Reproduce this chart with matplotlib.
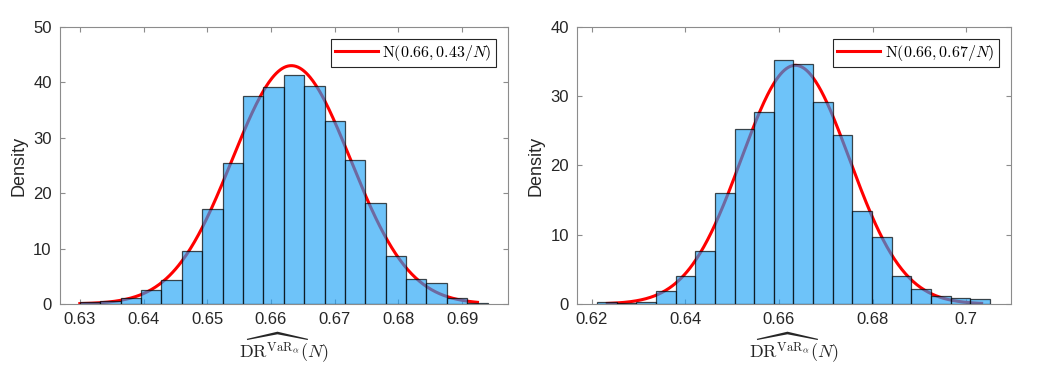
import numpy as np
import matplotlib
matplotlib.use('Agg')
import matplotlib.pyplot as plt

plt.rcParams['font.family'] = ['Liberation Sans', 'DejaVu Sans']
plt.rcParams['mathtext.fontset'] = 'cm'

# sample size used in the variance of the fitted normal
n_samples = 5000

# left panel: histogram (density) of the estimator
left_start = 0.6300
left_width = 0.0032
left_heights = [0.3, 0.6, 1.15, 2.6, 4.4, 9.6, 17.1, 25.5, 37.5, 39.1,
                41.4, 39.3, 33.0, 25.9, 18.3, 8.6, 4.6, 3.7, 1.0, 0.25]
left_mu = 0.6632
left_var = 0.43
left_range = (0.6300, 0.6924)
left_label = r'$\mathrm{N}(0.66, 0.43/N)$'
left_xticks = [0.63, 0.64, 0.65, 0.66, 0.67, 0.68, 0.69]
left_yticks = [0, 10, 20, 30, 40, 50]

# right panel
right_start = 0.6211
right_width = 0.0042
right_heights = [0.3, 0.15, 0.3, 1.9, 4.0, 7.7, 16.0, 25.3, 27.7, 35.2,
                 34.6, 29.2, 24.4, 13.4, 9.7, 4.1, 2.1, 1.2, 0.9, 0.75]
right_mu = 0.6635
right_var = 0.67
right_range = (0.6233, 0.7033)
right_label = r'$\mathrm{N}(0.66, 0.67/N)$'
right_xticks = [0.62, 0.64, 0.66, 0.68, 0.70]
right_yticks = [0, 10, 20, 30, 40]

xlabel = r'$\widehat{\mathrm{DR}^{\mathrm{VaR}_\alpha}}(N)$'

face = (33/255., 163/255., 247/255., 0.65)
edge = (0, 0, 0, 0.7)
axcol = '#8c8c8c'
txtcol = '#262626'


def panel(ax, start, width, heights, mu, var, xr, label, xticks, yticks, xlim, ylim):
    lefts = start + width*np.arange(len(heights))
    sigma = np.sqrt(var/n_samples)
    xs = np.linspace(xr[0], xr[1], 400)
    pdf = np.exp(-0.5*((xs-mu)/sigma)**2)/(sigma*np.sqrt(2*np.pi))
    ax.plot(xs, pdf, color='red', lw=2.2, zorder=2, label=label)
    ax.bar(lefts, heights, width=width, align='edge', facecolor=face,
           edgecolor=edge, linewidth=0.9, zorder=3)
    ax.set_xlim(xlim)
    ax.set_ylim(ylim)
    ax.set_xticks(xticks)
    ax.set_yticks(yticks)
    ax.xaxis.set_major_formatter(matplotlib.ticker.FormatStrFormatter('%g'))
    ax.tick_params(direction='in', top=True, right=True, length=3.5, width=0.8,
                   color=axcol, labelcolor=txtcol, labelsize=12, pad=6)
    for s in ax.spines.values():
        s.set_color(axcol)
        s.set_linewidth(0.8)
    ax.set_ylabel('Density', fontsize=13, color=txtcol, labelpad=4)
    ax.set_xlabel(xlabel, fontsize=13, color=txtcol, labelpad=2)
    leg = ax.legend(loc='upper right', fontsize=11.5, handlelength=2.7,
                    fancybox=False, framealpha=1, edgecolor=txtcol,
                    borderpad=0.25, borderaxespad=0.75, handletextpad=0.3)
    leg.get_frame().set_linewidth(0.8)
    leg.set_zorder(5)


fig = plt.figure(figsize=(10.46, 3.67), dpi=100)
ax1 = fig.add_axes([0.0574, 0.1717, 0.4283, 0.7548])
ax2 = fig.add_axes([0.5519, 0.1717, 0.4143, 0.7548])

panel(ax1, left_start, left_width, left_heights, left_mu, left_var, left_range,
      left_label, left_xticks, left_yticks, (0.6269, 0.6972), (0, 50))
panel(ax2, right_start, right_width, right_heights, right_mu, right_var, right_range,
      right_label, right_xticks, right_yticks, (0.6169, 0.7095), (0, 40))

fig.savefig('out.png', dpi=100)
